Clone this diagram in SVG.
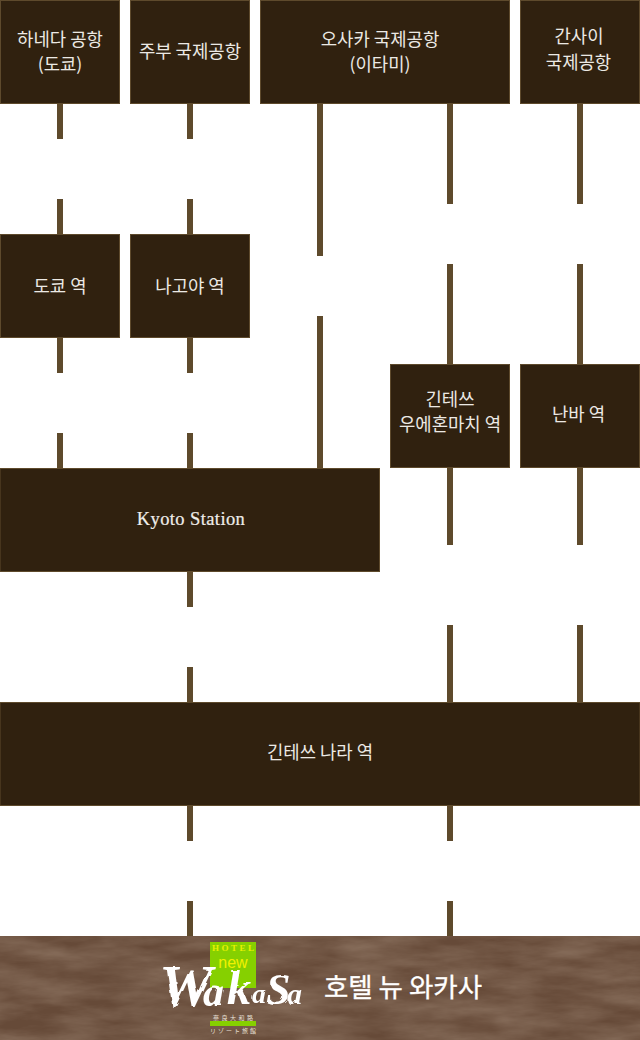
<svg xmlns="http://www.w3.org/2000/svg" width="640" height="1040" viewBox="0 0 640 1040">
<style>
.box{fill:#30210f;stroke:#5e4a2c;stroke-width:1}
.c{fill:#5e4a2c}
.t{font-family:"Noto Sans CJK KR","Noto Sans",sans-serif;font-size:17.800px;fill:#ece9e4;text-anchor:middle}
.s{font-family:"Liberation Serif",serif;font-size:18.500px;letter-spacing:.4px;fill:#f0eeea;stroke:#f0eeea;stroke-width:.2;text-anchor:middle}
.w{font-family:"Liberation Serif",serif;font-style:italic;font-weight:bold;fill:#fff}
</style>
<defs>
<filter id="tex" x="0" y="0" width="100%" height="100%">
<feTurbulence type="fractalNoise" baseFrequency="0.015 0.06" numOctaves="5" seed="11"/>
<feColorMatrix values="0 0 0 0 0.50  0 0 0 0 0.38  0 0 0 0 0.29  0.55 0 0 0 -0.12"/>
</filter>
<filter id="brush" x="-5%" y="-5%" width="110%" height="110%">
<feTurbulence type="fractalNoise" baseFrequency="0.09" numOctaves="2" seed="3"/>
<feDisplacementMap in="SourceGraphic" scale="3"/>
</filter>
</defs>
<rect width="640" height="1040" fill="#fff"/>
<g id="connectors" class="c">
<rect x="57" y="104" width="6" height="35"/><rect x="57" y="199" width="6" height="35"/>
<rect x="57" y="338" width="6" height="35"/><rect x="57" y="433" width="6" height="35"/>
<rect x="187" y="104" width="6" height="35"/><rect x="187" y="199" width="6" height="35"/>
<rect x="187" y="338" width="6" height="35"/><rect x="187" y="433" width="6" height="35"/>
<rect x="187" y="572" width="6" height="35"/><rect x="187" y="667" width="6" height="35"/>
<rect x="187" y="806" width="6" height="35"/><rect x="187" y="901" width="6" height="35"/>
<rect x="317" y="104" width="6" height="152"/><rect x="317" y="316" width="6" height="152"/>
<rect x="447" y="104" width="6" height="100"/><rect x="447" y="264" width="6" height="100"/>
<rect x="447" y="468" width="6" height="77"/><rect x="447" y="625" width="6" height="77"/>
<rect x="447" y="806" width="6" height="35"/><rect x="447" y="901" width="6" height="35"/>
<rect x="577" y="104" width="6" height="100"/><rect x="577" y="264" width="6" height="100"/>
<rect x="577" y="468" width="6" height="77"/><rect x="577" y="625" width="6" height="77"/>
</g>
<g id="haneda"><rect class="box" x="0.500" y="0.500" width="119" height="103"/><text class="t" x="60" y="46">하네다 공항</text><text class="t" x="60" y="71">(도쿄)</text></g>
<g id="chubu"><rect class="box" x="130.500" y="0.500" width="119" height="103"/><text class="t" x="190" y="58">주부 국제공항</text></g>
<g id="itami"><rect class="box" x="260.500" y="0.500" width="249" height="103"/><text class="t" x="380" y="46">오사카 국제공항</text><text class="t" x="380" y="71">(이타미)</text></g>
<g id="kansai"><rect class="box" x="520.500" y="0.500" width="119" height="103"/><text class="t" x="579" y="43">간사이</text><text class="t" x="578.500" y="69">국제공항</text></g>
<g id="tokyo"><rect class="box" x="0.500" y="234.500" width="119" height="103"/><text class="t" x="60" y="293">도쿄 역</text></g>
<g id="nagoya"><rect class="box" x="130.500" y="234.500" width="119" height="103"/><text class="t" x="190" y="293">나고야 역</text></g>
<g id="uehommachi"><rect class="box" x="390.500" y="364.500" width="119" height="103"/><text class="t" x="450" y="406">긴테쓰</text><text class="t" x="450" y="431">우에혼마치 역</text></g>
<g id="namba"><rect class="box" x="520.500" y="364.500" width="119" height="103"/><text class="t" x="578.500" y="421">난바 역</text></g>
<g id="kyoto"><rect class="box" x="0" y="468.500" width="379.500" height="103"/><text class="s" x="191" y="525">Kyoto Station</text></g>
<g id="nara"><rect class="box" x="0" y="702.500" width="640" height="103"/><text class="t" x="320" y="759">긴테쓰 나라 역</text></g>
<g id="hotel">
<rect x="0" y="936" width="640" height="104" fill="#664a38"/>
<rect x="0" y="936" width="640" height="104" filter="url(#tex)"/>
<rect x="210" y="942" width="46" height="46" fill="#86d000"/>
<text x="233" y="951" font-family="Liberation Serif,serif" font-size="9" font-weight="bold" fill="#e8f000" text-anchor="middle" textLength="42">HOTEL</text>
<text x="233" y="968" font-family="Liberation Sans,sans-serif" font-size="16" fill="#f2f000" text-anchor="middle">new</text>
<g filter="url(#brush)">
<text class="w" font-size="60" x="159" y="1006">W</text>
<text class="w" font-size="42" x="203" y="1006">a</text>
<text class="w" font-size="48" x="227" y="1004">k</text>
<text class="w" font-size="28" x="252" y="1003">a</text>
<text class="w" font-size="44" x="266" y="1004">S</text>
<text class="w" font-size="30" x="287" y="1004">a</text>
</g>
<text x="233" y="1020" font-family="Noto Sans CJK JP,sans-serif" font-size="6" fill="#e8e0d8" text-anchor="middle" textLength="40">奈良大和路</text>
<rect x="210" y="1021" width="46" height="5" fill="#86d000"/>
<text x="233" y="1033" font-family="Noto Sans CJK JP,sans-serif" font-size="6" fill="#e8e0d8" text-anchor="middle" textLength="46">リゾート旅館</text>
<text x="403" y="997" font-family="Noto Sans CJK KR,sans-serif" font-size="26.500" fill="#fff" stroke="#fff" stroke-width=".3" text-anchor="middle">호텔 뉴 와카사</text>
</g>
</svg>
